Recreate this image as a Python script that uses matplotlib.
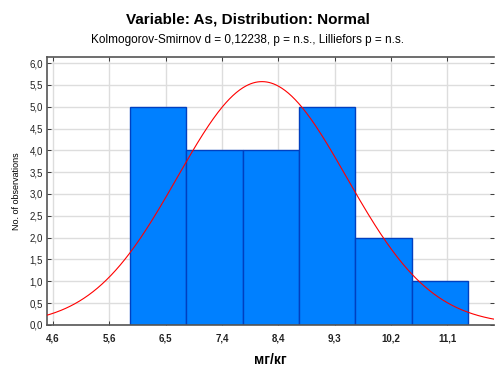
import numpy as np
import matplotlib.pyplot as plt

plt.rcParams['font.family'] = ['Liberation Sans', 'DejaVu Sans']

# histogram of As (mg/kg), 21 samples
bin_edges = [5.915, 6.84, 7.765, 8.69, 9.615, 10.54, 11.465]
counts = [5, 4, 4, 5, 2, 1]
tick_pos = [4.65, 5.575, 6.5, 7.425, 8.35, 9.275, 10.2, 11.125]
tick_labels = ['4,6', '5,6', '6,5', '7,4', '8,4', '9,3', '10,2', '11,1']
y_ticks = [0, 0.5, 1, 1.5, 2, 2.5, 3, 3.5, 4, 4.5, 5, 5.5, 6]

# fitted normal curve parameters
mu = 8.08
sigma = 1.39
n_obs = sum(counts)
bw = bin_edges[1] - bin_edges[0]

fig = plt.figure(figsize=(4.95, 3.70), dpi=100)
ax = fig.add_axes([0.095, 0.122, 0.903, 0.724])

lefts = bin_edges[:-1]
ax.bar(lefts, counts, width=bw, align='edge', color='#0080FF',
       edgecolor='#0040C0', linewidth=1.0, zorder=2)

xs = np.linspace(4.5, 11.95, 400)
ys = n_obs * bw / (sigma * np.sqrt(2 * np.pi)) * np.exp(-0.5 * ((xs - mu) / sigma) ** 2)
ax.plot(xs, ys, color='#FF0000', linewidth=0.8, zorder=3)

ax.set_xlim(4.55, 11.89)
ax.set_ylim(0, 6.14)
ax.set_xticks(tick_pos)
ax.set_xticklabels(tick_labels, fontsize=7, fontweight='bold')
ax.set_yticks(y_ticks)
ax.set_yticklabels([f'{v:.1f}'.replace('.', ',') for v in y_ticks], fontsize=7)
ax.tick_params(direction='in', length=3, width=0.6, top=True, right=True, colors='#222222')
ax.tick_params(axis='x', pad=6)
ax.tick_params(axis='y', pad=3)
ax.grid(True, color='#DDDDDD', linewidth=1.0, zorder=0)
ax.set_axisbelow(True)
for side in ['left', 'bottom', 'top']:
    ax.spines[side].set_color('#555555')
    ax.spines[side].set_linewidth(1.2)
ax.spines['right'].set_visible(False)

ax.set_xlabel('мг/кг', fontsize=10, fontweight='bold', labelpad=7)
ax.set_ylabel('No. of observations', fontsize=6.5, labelpad=6)

fig.text(0.5, 0.946, 'Variable: As, Distribution: Normal', ha='center', va='center',
         fontsize=11, fontweight='bold')
fig.text(0.5, 0.892, 'Kolmogorov-Smirnov d = 0,12238, p = n.s., Lilliefors p = n.s.',
         ha='center', va='center', fontsize=8.5)

fig.savefig('out.png', dpi=100)
